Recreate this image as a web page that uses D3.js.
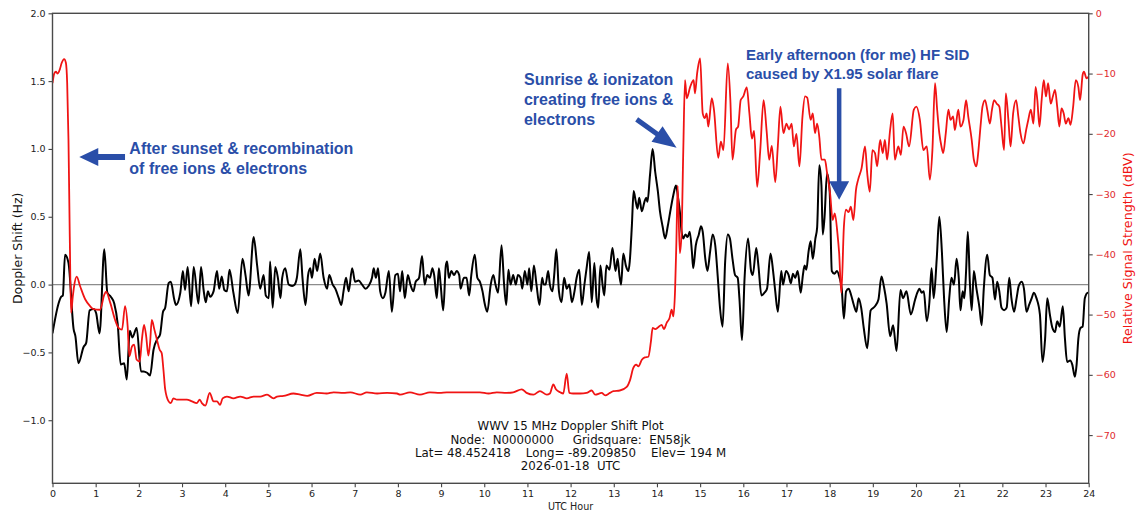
<!DOCTYPE html>
<html>
<head>
<meta charset="utf-8">
<script src="https://cdn.jsdelivr.net/npm/d3@7"></script>
<style>
  body { margin: 0; background: #fff; }
  svg { display: block; }
</style>
</head>
<body>
<script>
//Width and height
var w = 1147;
var h = 515;

// hour ticks and axis ticks
var hourTicks = d3.range(0, 25);
var shiftTicks = [-1.0, -0.5, 0.0, 0.5, 1.0, 1.5, 2.0];
var dbTicks = [0, -10, -20, -30, -40, -50, -60, -70];

// Doppler shift (Hz), [UTC hour, Hz]
var dopplerShift = [
  [0,-0.36],[0.14,-0.14],[0.2,-0.09],[0.24,-0.08],[0.29,0.22],[0.37,0.16],[0.49,-0.33],[0.53,-0.38],[0.60,-0.58],[0.72,-0.46],
  [0.78,-0.43],[0.86,-0.19],[0.95,-0.18],[1.01,-0.21],[1.09,-0.36],[1.20,0.26],[1.27,-0.06],[1.35,-0.09],[1.43,-0.14],[1.51,-0.29],
  [1.58,-0.59],[1.66,-0.58],[1.72,-0.70],[1.79,-0.34],[1.85,-0.39],[1.95,-0.32],[2.05,-0.64],[2.11,-0.64],[2.19,-0.65],[2.26,-0.67],
  [2.34,-0.48],[2.43,-0.40],[2.49,-0.37],[2.56,-0.20],[2.61,-0.17],[2.69,0.01],[2.74,0.02],[2.82,-0.11],[2.86,-0.15],[2.96,-0.06],
  [3.02,0.10],[3.07,-0.04],[3.13,0.13],[3.21,-0.16],[3.27,0.13],[3.38,-0.14],[3.44,0.13],[3.50,-0.04],[3.55,-0.13],[3.60,-0.05],
  [3.65,-0.09],[3.73,-0.05],[3.81,0.10],[3.86,-0.03],[3.92,0.06],[3.98,-0.04],[4.04,-0.05],[4.10,0.11],[4.19,-0.06],[4.29,-0.21],
  [4.40,0.19],[4.47,0.07],[4.54,-0.08],[4.66,0.35],[4.74,0.14],[4.81,-0.03],[4.89,0.07],[4.94,-0.08],[5.01,-0.10],[5.04,0.17],
  [5.10,-0.17],[5.16,0.13],[5.22,0.05],[5.28,-0.10],[5.32,0.05],[5.39,0.12],[5.47,0.0],[5.55,-0.01],[5.61,0.0],[5.66,0.05],
  [5.74,0.26],[5.79,0.05],[5.86,-0.15],[5.92,0.07],[5.97,0.12],[6.01,0.05],[6.07,0.19],[6.13,0.10],[6.20,0.23],[6.28,0.05],
  [6.36,-0.03],[6.41,0.07],[6.49,0.0],[6.55,-0.03],[6.63,-0.10],[6.69,-0.15],[6.74,-0.05],[6.80,0.05],[6.86,-0.05],[6.94,0.12],
  [7.01,0.02],[7.09,0.03],[7.17,0.0],[7.25,-0.03],[7.32,-0.01],[7.40,0.05],[7.44,0.12],[7.49,0.05],[7.54,0.12],[7.59,-0.05],
  [7.65,-0.10],[7.71,-0.06],[7.79,0.10],[7.86,-0.2],[7.94,0.07],[8.0,0.08],[8.05,-0.05],[8.10,0.10],[8.16,-0.10],[8.23,0.07],
  [8.29,0.0],[8.36,-0.05],[8.41,0.02],[8.49,0.05],[8.56,0.21],[8.62,0.0],[8.68,0.07],[8.74,0.05],[8.80,0.12],[8.84,0.07],
  [8.90,-0.10],[8.95,0.12],[8.99,0.0],[9.05,-0.19],[9.11,0.14],[9.14,0.17],[9.18,0.05],[9.24,0.10],[9.30,0.07],[9.36,0.10],
  [9.42,0.07],[9.45,-0.03],[9.53,0.05],[9.59,0.05],[9.65,-0.08],[9.70,0.07],[9.78,0.22],[9.84,0.05],[9.90,0.02],[9.96,-0.05],
  [10.01,-0.14],[10.07,-0.2],[10.15,0.0],[10.21,0.07],[10.26,0.0],[10.32,-0.06],[10.40,0.29],[10.46,0.0],[10.51,-0.15],[10.56,0.11],
  [10.61,0.0],[10.67,0.07],[10.73,0.0],[10.78,0.07],[10.84,0.05],[10.88,-0.03],[10.94,0.10],[11.0,0.0],[11.04,0.12],[11.09,-0.05],
  [11.15,0.14],[11.21,0.0],[11.28,-0.15],[11.34,0.05],[11.38,0.0],[11.42,0.0],[11.48,0.10],[11.52,0.0],[11.58,-0.05],[11.62,0.07],
  [11.67,0.26],[11.73,-0.05],[11.79,-0.13],[11.85,0.05],[11.91,-0.03],[11.97,0.0],[12.03,-0.13],[12.09,-0.05],[12.14,0.05],[12.20,0.11],
  [12.26,-0.15],[12.32,0.0],[12.37,0.12],[12.43,0.24],[12.49,-0.13],[12.55,0.16],[12.60,-0.10],[12.64,-0.17],[12.69,0.14],[12.74,0.0],
  [12.78,-0.08],[12.83,0.14],[12.90,0.11],[12.97,0.27],[13.04,0.10],[13.09,0.19],[13.13,0.07],[13.17,0.0],[13.22,0.23],[13.28,0.14],
  [13.34,0.10],[13.37,0.17],[13.42,0.44],[13.46,0.69],[13.51,0.61],[13.55,0.56],[13.59,0.64],[13.65,0.54],[13.71,0.61],[13.75,0.64],
  [13.78,0.61],[13.84,0.81],[13.90,1.0],[13.96,0.83],[14.02,0.69],[14.07,0.54],[14.13,0.43],[14.19,0.34],[14.25,0.43],[14.32,0.56],
  [14.38,0.66],[14.44,0.73],[14.49,0.64],[14.53,0.54],[14.57,0.39],[14.61,0.34],[14.66,0.37],[14.71,0.35],[14.76,0.39],[14.81,0.24],
  [14.84,0.12],[14.90,0.29],[14.97,0.37],[15.02,0.43],[15.06,0.39],[15.12,0.19],[15.17,0.10],[15.23,0.24],[15.29,0.37],[15.35,0.29],
  [15.41,0.05],[15.46,-0.17],[15.52,-0.31],[15.58,0.17],[15.64,0.37],[15.69,0.34],[15.75,0.19],[15.81,0.07],[15.87,0.05],[15.91,-0.10],
  [15.97,-0.41],[16.03,0.05],[16.11,0.34],[16.18,0.10],[16.22,0.07],[16.30,0.27],[16.35,0.14],[16.42,-0.08],[16.49,-0.06],[16.55,-0.03],
  [16.63,0.23],[16.69,0.10],[16.74,-0.05],[16.80,-0.2],[16.88,0.10],[16.92,0.0],[16.99,0.10],[17.05,0.07],[17.10,0.01],[17.15,0.08],
  [17.20,0.05],[17.26,0.10],[17.33,-0.06],[17.38,0.07],[17.42,0.14],[17.46,0.11],[17.51,0.24],[17.56,0.32],[17.61,0.19],[17.67,0.34],
  [17.71,0.42],[17.76,0.88],[17.81,0.73],[17.84,0.37],[17.88,0.49],[17.94,0.82],[18.0,0.69],[18.05,0.10],[18.11,0.08],[18.17,0.10],
  [18.23,0.05],[18.28,-0.03],[18.33,-0.25],[18.38,-0.05],[18.44,-0.03],[18.50,-0.08],[18.56,-0.15],[18.62,-0.2],[18.67,-0.10],[18.73,-0.17],
  [18.79,-0.32],[18.87,-0.47],[18.95,-0.19],[19.05,-0.16],[19.13,-0.11],[19.20,0.06],[19.26,-0.02],[19.32,-0.14],[19.40,-0.38],[19.47,-0.30],
  [19.55,-0.49],[19.64,-0.04],[19.70,-0.10],[19.78,-0.05],[19.88,-0.22],[19.98,-0.11],[20.03,-0.06],[20.08,-0.03],[20.13,-0.06],[20.18,-0.05],
  [20.25,-0.27],[20.31,-0.13],[20.36,0.12],[20.41,-0.10],[20.48,0.19],[20.54,0.50],[20.60,0.24],[20.65,-0.10],[20.71,-0.35],[20.77,-0.10],
  [20.82,0.05],[20.88,0.0],[20.94,0.19],[20.99,0.05],[21.03,-0.19],[21.08,-0.05],[21.12,-0.10],[21.16,0.10],[21.20,0.39],[21.25,0.0],
  [21.29,-0.19],[21.34,0.10],[21.40,-0.03],[21.47,-0.17],[21.52,-0.30],[21.57,-0.03],[21.65,0.22],[21.71,0.07],[21.77,0.05],[21.83,-0.11],
  [21.88,0.02],[21.93,-0.05],[21.98,-0.17],[22.04,-0.19],[22.10,-0.17],[22.16,0.05],[22.21,-0.10],[22.27,-0.2],[22.33,-0.10],[22.38,-0.01],
  [22.45,0.02],[22.50,-0.03],[22.56,-0.2],[22.62,-0.15],[22.68,-0.10],[22.73,-0.06],[22.79,-0.10],[22.87,-0.22],[22.93,-0.57],[22.99,-0.40],
  [23.04,-0.10],[23.10,-0.22],[23.16,-0.32],[23.22,-0.35],[23.27,-0.27],[23.33,-0.31],[23.40,-0.16],[23.45,-0.40],[23.50,-0.57],[23.57,-0.56],
  [23.62,-0.59],[23.68,-0.68],[23.72,-0.59],[23.76,-0.40],[23.81,-0.32],[23.86,-0.31],[23.91,-0.10],[23.98,-0.06],[24.0,-0.06]
];

// relative signal strength (dBV), [UTC hour, dBV]
var signalStrength = [
  [0,-11.6],[0.04,-10],[0.08,-9.7],[0.12,-10],[0.17,-9.3],[0.21,-8.3],[0.27,-7.6],[0.31,-8.2],[0.34,-11.6],[0.37,-21],
  [0.40,-37],[0.43,-49.7],[0.47,-47],[0.5,-45.3],[0.56,-43.7],[0.64,-45.3],[0.76,-47.5],[0.87,-48.6],[0.95,-49.1],[1.1,-49.2],
  [1.2,-46.7],[1.24,-46.2],[1.34,-48.1],[1.45,-50.9],[1.53,-52.2],[1.61,-52.5],[1.68,-48.6],[1.74,-51.9],[1.78,-56.9],[1.84,-55.3],
  [1.89,-55],[1.95,-57.5],[2.02,-57.8],[2.07,-54.2],[2.12,-51.7],[2.17,-53.6],[2.22,-56.8],[2.26,-54.7],[2.3,-50.9],[2.36,-52.5],
  [2.42,-54.2],[2.48,-55.8],[2.53,-56.4],[2.57,-59.2],[2.61,-62.4],[2.69,-64.4],[2.74,-64.7],[2.8,-63.9],[2.88,-64.1],[3.11,-64.1],
  [3.23,-64.4],[3.34,-64.7],[3.41,-64.1],[3.46,-64.7],[3.54,-65.1],[3.64,-63.0],[3.73,-64.4],[3.81,-64.4],[3.88,-65.0],[3.94,-63.9],
  [4.04,-63.6],[4.19,-63.9],[4.35,-63.6],[4.5,-63.9],[4.66,-63.6],[4.81,-63.6],[4.97,-63.3],[5.12,-63.9],[5.2,-63.6],[5.35,-63.5],
  [5.58,-63.1],[5.74,-63.3],[5.9,-63.5],[6.12,-63.0],[6.35,-63.1],[6.51,-62.9],[6.74,-63.0],[6.9,-62.9],[7.13,-63.3],[7.28,-62.9],
  [7.52,-63.1],[7.75,-63.0],[7.98,-63.1],[8.05,-63.3],[8.28,-62.9],[8.51,-63.3],[8.74,-62.9],[8.97,-63.0],[9.13,-62.9],[9.52,-62.9],
  [9.9,-62.9],[10.1,-63.1],[10.29,-62.9],[10.52,-63.0],[10.67,-62.9],[10.87,-62.4],[10.98,-63.0],[11.14,-63.3],[11.29,-62.7],[11.45,-63.3],
  [11.52,-63.1],[11.6,-61.6],[11.66,-62.4],[11.76,-62.9],[11.83,-63.1],[11.91,-59.8],[11.97,-63.0],[12.06,-63.1],[12.22,-63.1],[12.37,-63.0],
  [12.49,-62.6],[12.57,-63.3],[12.72,-63.0],[12.8,-63.4],[12.91,-63.0],[12.99,-62.7],[13.14,-62.6],[13.3,-62.0],[13.38,-60.8],[13.45,-58.9],
  [13.52,-58.3],[13.57,-58.6],[13.65,-57.5],[13.72,-57.1],[13.8,-57.0],[13.86,-54.5],[13.9,-52.2],[13.96,-52.4],[14.03,-52.1],[14.11,-51.7],
  [14.16,-52.4],[14.23,-51.3],[14.29,-50.6],[14.34,-49.2],[14.38,-50.3],[14.42,-45.9],[14.45,-38],[14.48,-28.6],[14.53,-39.8],[14.57,-36.5],
  [14.61,-22.7],[14.65,-11.1],[14.69,-14.1],[14.77,-12.2],[14.85,-11.1],[14.88,-13.3],[14.93,-10.0],[15.0,-7.5],[15.06,-16.6],[15.11,-17.4],
  [15.15,-16.6],[15.19,-18.8],[15.27,-14.1],[15.32,-16],[15.42,-24.0],[15.48,-21.3],[15.54,-22.7],[15.64,-8.3],[15.7,-14.4],[15.75,-24.3],
  [15.83,-19.3],[15.88,-18.8],[15.94,-14.4],[16.0,-13.8],[16.08,-12.3],[16.14,-16.5],[16.2,-20.8],[16.25,-19.5],[16.32,-28.8],[16.39,-23],
  [16.47,-14.4],[16.54,-19.5],[16.6,-24.3],[16.66,-22],[16.74,-28],[16.8,-22],[16.86,-15.5],[16.93,-19.9],[17.0,-18.3],[17.06,-19.3],
  [17.12,-18.3],[17.17,-22.1],[17.23,-20],[17.3,-25.4],[17.37,-17.2],[17.43,-13.8],[17.48,-14],[17.56,-17.7],[17.61,-16.6],[17.66,-19.9],
  [17.71,-18.3],[17.76,-20.5],[17.81,-24.3],[17.89,-24.3],[17.94,-26.5],[18.01,-29.9],[18.07,-34.3],[18.12,-33.2],[18.18,-36.5],[18.22,-39.8],
  [18.27,-46.4],[18.33,-35.4],[18.38,-32.6],[18.44,-33],[18.49,-32.1],[18.55,-34.3],[18.61,-29.3],[18.66,-27.6],[18.74,-25.7],[18.82,-22.1],
  [18.87,-26.5],[18.93,-29.6],[18.99,-22.7],[19.05,-23.2],[19.1,-25.4],[19.17,-21],[19.23,-23.2],[19.28,-21],[19.33,-24.3],[19.40,-19.4],
  [19.46,-16.6],[19.51,-24.3],[19.59,-22.1],[19.65,-23.5],[19.71,-18.8],[19.77,-19.9],[19.84,-22.1],[19.95,-16],[20.01,-15.5],[20.09,-17.7],
  [20.17,-22.7],[20.25,-22.1],[20.32,-27.6],[20.38,-22.7],[20.44,-11.6],[20.49,-16],[20.54,-19.9],[20.59,-22.1],[20.63,-23.2],[20.69,-19.9],
  [20.75,-16],[20.8,-17.7],[20.86,-17.1],[20.9,-19.4],[20.98,-16],[21.03,-18.8],[21.1,-17.7],[21.16,-14.4],[21.21,-17.1],[21.29,-21],
  [21.34,-24.3],[21.4,-25.4],[21.44,-23.2],[21.5,-18.3],[21.54,-15.5],[21.6,-14.4],[21.65,-16],[21.71,-18.3],[21.76,-16],[21.81,-14.4],
  [21.87,-15],[21.93,-15.5],[21.98,-18.8],[22.04,-22.7],[22.08,-13.3],[22.14,-17.7],[22.19,-22.1],[22.25,-16.6],[22.32,-14.4],[22.37,-17.1],
  [22.42,-19.9],[22.49,-21.6],[22.55,-19.4],[22.6,-17.7],[22.66,-16],[22.72,-18.3],[22.77,-12.2],[22.81,-14.4],[22.86,-18.8],[22.91,-14.4],
  [22.96,-11.1],[23.01,-13.8],[23.06,-11.6],[23.12,-15],[23.17,-13.8],[23.22,-12.7],[23.27,-15.5],[23.32,-18.8],[23.37,-15.8],[23.42,-16.6],
  [23.47,-18.3],[23.53,-17.4],[23.58,-18.5],[23.64,-15.5],[23.7,-11.1],[23.76,-12.2],[23.8,-14.4],[23.86,-10.2],[23.89,-9.7],[23.95,-10.8],
  [24.0,-10.5]
];

var infoLines = [
  "WWV 15 MHz Doppler Shift Plot",
  "Node:  N0000000     Gridsquare:  EN58jk",
  "Lat= 48.452418    Long= -89.209850    Elev= 194 M",
  "2026-01-18  UTC"
];

// annotations placed in data units (hour, Hz)
var notes = [
  { x: 1.78, y: 0.964, lines: ["After sunset & recombination", "of free ions & electrons"], gap: 0.148, size: 16 },
  { x: 10.92, y: 1.47, lines: ["Sunrise & ionizaton", "creating free ions &", "electrons"], gap: 0.146, size: 16 },
  { x: 16.06, y: 1.653, lines: ["Early afternoon (for me) HF SID", "caused by X1.95 solar flare"], gap: 0.136, size: 15 }
];
var arrows = [
  { from: [1.68, 0.94], to: [0.62, 0.94], shaft: 6, headLen: 19, headW: 18 },
  { from: [13.53, 1.218], to: [14.455, 1.008], shaft: 5, headLen: 24, headW: 19 },
  { from: [18.22, 1.448], to: [18.22, 0.625], shaft: 4.5, headLen: 18.5, headW: 20 }
];

var plotL = 52.5, plotR = 1088.7, plotT = 13.3, plotB = 483.3;
var noteBlue = "#2a4ea8";

var xScale = d3.scaleLinear().domain([0, 24]).range([plotL, plotR]);
var yScale = d3.scaleLinear().domain([-1.465, 2.0]).range([plotB, plotT]);
var y2Scale = d3.scaleLinear().domain([-78, 0]).range([plotB, plotT]);

//Create SVG element
var svg = d3.select("body")
    .append("svg")
    .attr("width", w)
    .attr("height", h)
    .style("background", "#fff");

// zero line
svg.append("line")
    .attr("x1", plotL).attr("x2", plotR)
    .attr("y1", yScale(0)).attr("y2", yScale(0))
    .attr("stroke", "#8c8c8c")
    .attr("stroke-width", 1.4);

svg.append("clipPath").attr("id", "plotclip")
    .append("rect")
    .attr("x", plotL).attr("y", plotT)
    .attr("width", plotR - plotL).attr("height", plotB - plotT);

var shiftLine = d3.line()
    .x(function(d) { return xScale(d[0]); })
    .y(function(d) { return yScale(d[1]); })
    .curve(d3.curveMonotoneX);

var signalLine = d3.line()
    .x(function(d) { return xScale(d[0]); })
    .y(function(d) { return y2Scale(d[1]); })
    .curve(d3.curveMonotoneX);

svg.append("path")
    .datum(dopplerShift)
    .attr("clip-path", "url(#plotclip)")
    .attr("d", shiftLine)
    .attr("fill", "none")
    .attr("stroke", "#000")
    .attr("stroke-width", 2)
    .attr("stroke-linejoin", "round");

svg.append("path")
    .datum(signalStrength)
    .attr("clip-path", "url(#plotclip)")
    .attr("d", signalLine)
    .attr("fill", "none")
    .attr("stroke", "#f01414")
    .attr("stroke-width", 1.8)
    .attr("stroke-linejoin", "round");

// axes
var tickFont = "'DejaVu Sans', sans-serif";

var xAxis = svg.append("g")
    .attr("transform", "translate(0," + plotB + ")")
    .call(d3.axisBottom(xScale).tickValues(hourTicks).tickFormat(d3.format("d")).tickSize(4).tickPadding(3));

var yAxis = svg.append("g")
    .attr("transform", "translate(" + plotL + ",0)")
    .call(d3.axisLeft(yScale).tickValues(shiftTicks).tickFormat(d3.format(".1f")).tickSize(4).tickPadding(3));

var y2Axis = svg.append("g")
    .attr("transform", "translate(" + plotR + ",0)")
    .call(d3.axisRight(y2Scale).tickValues(dbTicks).tickFormat(d3.format("d")).tickSize(4).tickPadding(3));

[xAxis, yAxis, y2Axis].forEach(function(g) {
    g.select(".domain").remove();
    g.selectAll("line").attr("stroke", "#444").attr("stroke-width", 1.1);
    g.selectAll("text")
        .attr("font-family", tickFont)
        .attr("font-size", "9.5px")
        .attr("fill", "#222");
});
y2Axis.selectAll("text").attr("fill", "#e0282c");

// frame (spines)
svg.append("rect")
    .attr("x", plotL).attr("y", plotT)
    .attr("width", plotR - plotL).attr("height", plotB - plotT)
    .attr("fill", "none")
    .attr("stroke", "#4a4a4a")
    .attr("stroke-width", 1.4);

// axis labels
svg.append("text")
    .text("Doppler Shift (Hz)")
    .attr("transform", "translate(18," + ((plotT + plotB) / 2) + ") rotate(-90)")
    .attr("text-anchor", "middle")
    .attr("dy", "0.35em")
    .attr("font-family", tickFont)
    .attr("font-size", "12.5px")
    .attr("fill", "#111");

svg.append("text")
    .text("Relative Signal Strength (dBV)")
    .attr("transform", "translate(1128," + ((plotT + plotB) / 2) + ") rotate(-90)")
    .attr("text-anchor", "middle")
    .attr("dy", "0.35em")
    .attr("font-family", tickFont)
    .attr("font-size", "12.7px")
    .attr("fill", "#f01414");

svg.append("text")
    .text("UTC Hour")
    .attr("x", (plotL + plotR) / 2)
    .attr("y", 510)
    .attr("text-anchor", "middle")
    .attr("font-family", tickFont)
    .attr("font-size", "9.6px")
    .attr("fill", "#222");

// info block
svg.append("g").selectAll("text")
    .data(infoLines)
    .enter()
    .append("text")
    .text(function(d) { return d; })
    .attr("x", (plotL + plotR) / 2)
    .attr("y", function(d, i) { return 430.3 + i * 13.3; })
    .attr("text-anchor", "middle")
    .style("white-space", "pre")
    .attr("font-family", tickFont)
    .attr("font-size", "11.8px")
    .attr("fill", "#111");

// annotations
notes.forEach(function(n) {
    svg.append("g").selectAll("text")
        .data(n.lines)
        .enter()
        .append("text")
        .text(function(d) { return d; })
        .attr("x", xScale(n.x))
        .attr("y", function(d, i) { return yScale(n.y - i * n.gap); })
        .attr("font-family", "'Liberation Sans', Arial, sans-serif")
        .attr("font-weight", "bold")
        .attr("font-size", n.size + "px")
        .attr("fill", noteBlue);
});

function arrowPoints(a) {
    var x1 = xScale(a.from[0]), y1 = yScale(a.from[1]);
    var x2 = xScale(a.to[0]), y2 = yScale(a.to[1]);
    var dx = x2 - x1, dy = y2 - y1, len = Math.sqrt(dx * dx + dy * dy);
    var ux = dx / len, uy = dy / len, nx = -uy, ny = ux;
    var bx = x2 - ux * a.headLen, by = y2 - uy * a.headLen;
    var s = a.shaft / 2, hw = a.headW / 2;
    return [
        [x1 + nx * s, y1 + ny * s], [bx + nx * s, by + ny * s], [bx + nx * hw, by + ny * hw],
        [x2, y2],
        [bx - nx * hw, by - ny * hw], [bx - nx * s, by - ny * s], [x1 - nx * s, y1 - ny * s]
    ].map(function(p) { return p.join(","); }).join(" ");
}

svg.selectAll("polygon.arrow")
    .data(arrows)
    .enter()
    .append("polygon")
    .attr("class", "arrow")
    .attr("points", arrowPoints)
    .attr("fill", noteBlue);
</script>
</body>
</html>
